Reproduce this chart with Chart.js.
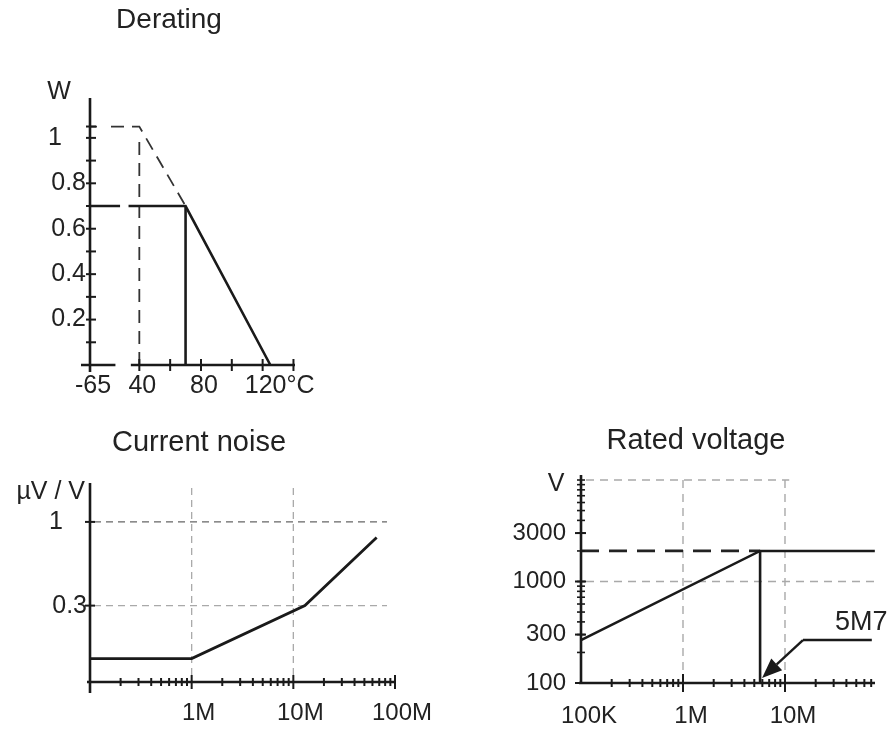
<!DOCTYPE html>
<html><head><meta charset="utf-8">
<script src="https://cdn.jsdelivr.net/npm/chart.js@4.4.0/dist/chart.umd.min.js"></script>
<style>
html,body{margin:0;padding:0;background:#fff;}
#wrap{position:relative;width:893px;height:731px;overflow:hidden;background:#fff}
canvas{position:absolute;left:0;top:0;}
</style></head><body>
<div id="wrap">
<canvas id="c1" width="893" height="731"></canvas>
<canvas id="c2" width="893" height="731"></canvas>
<canvas id="c3" width="893" height="731"></canvas>
</div>
<script>
// ================= DATA =================
// --- Derating (power W vs ambient temperature °C) ---
const deratingTitle = 'Derating';
const deratingSolidTemp = [-65, 70, 125];
const deratingSolidPower = [0.7, 0.7, 0];
const deratingDashTemp = [-65, 40, 70];
const deratingDashPower = [1.05, 1.05, 0.7];
const deratingKneeTemp = [70, 70];
const deratingKneePower = [0, 0.7];
const deratingRefTemp = [40, 40];
const deratingRefPower = [0, 1.0];
const deratingXTicks = [-65, 40, 80, 120];
const deratingXLabels = ['-65', '40', '80', '120'];
const deratingXMinor = [40, 60, 80, 100, 120, 140];
const deratingYTicks = [0.2, 0.4, 0.6, 0.8, 1];
const deratingYLabels = ['0.2', '0.4', '0.6', '0.8', '1'];
const deratingYMinor = [0.1, 0.2, 0.3, 0.4, 0.5, 0.6, 0.7, 0.8, 0.9, 1.0, 1.05];
const deratingXUnit = '°C';
const deratingYUnit = 'W';

// --- Current noise (µV/V vs resistance) ---
const noiseTitle = 'Current noise';
const noiseResistance = [1e5, 1e6, 1.3e7, 6.6e7];
const noiseLevel = [0.14, 0.14, 0.3, 0.8];
const noiseXTicks = [1e6, 1e7, 1e8];
const noiseXLabels = ['1M', '10M', '100M'];
const noiseXMinor = [2e5,3e5,4e5,5e5,6e5,7e5,8e5,9e5, 2e6,3e6,4e6,5e6,6e6,7e6,8e6,9e6, 2e7,3e7,4e7,5e7,6e7,7e7,8e7,9e7];
const noiseYTicks = [1, 0.3];
const noiseYLabels = ['1', '0.3'];
const noiseYUnit = 'µV / V';

// --- Rated voltage (V vs resistance) ---
const ratedTitle = 'Rated voltage';
const ratedResistance = [1e5, 5.7e6, 7.6e7];
const ratedVoltage = [265, 2000, 2000];
const ratedLimitResistance = [1e5, 5.7e6];
const ratedLimitVoltage = [2000, 2000];
const ratedCritResistance = [5.7e6, 5.7e6];
const ratedCritVoltage = [100, 2000];
const ratedXTicks = [1e5, 1e6, 1e7];
const ratedXLabels = ['100K', '1M', '10M'];
const ratedXMinor = [2e5,3e5,4e5,5e5,6e5,7e5,8e5,9e5, 2e6,3e6,4e6,5e6,6e6,7e6,8e6,9e6, 2e7,3e7,4e7,5e7,6e7,7e7];
const ratedYTicks = [100, 300, 1000, 3000];
const ratedYLabels = ['100', '300', '1000', '3000'];
const ratedYMinor = [200,300,400,500,600,700,800,900,1000,2000,3000,4000,5000,6000,7000,8000,9000,10000];
const ratedYUnit = 'V';
const ratedNoteText = '5M7';
const ratedNoteTip = {x: 5.96e6, y: 112};
const ratedNoteElbow = {x: 1.5e7, y: 265};
const ratedNoteEnd = {x: 7.1e7, y: 265};
const ratedNoteLabel = {x: 3.1e7, y: 390};

// ================= HELPERS =================
const FONT = '"Liberation Sans", Arial, Helvetica, sans-serif';
const TEXT = '#222';
const INK = '#1a1a1a';
const GRID = '#a9a9a9';

function seg(ctx, x1, y1, x2, y2, w, color, dash) {
  ctx.save();
  ctx.beginPath();
  ctx.lineWidth = w;
  ctx.strokeStyle = color;
  ctx.setLineDash(dash || []);
  ctx.moveTo(x1, y1);
  ctx.lineTo(x2, y2);
  ctx.stroke();
  ctx.restore();
}
function txt(ctx, s, x, y, size, align) {
  ctx.save();
  ctx.font = size + 'px ' + FONT;
  ctx.fillStyle = TEXT;
  ctx.textAlign = align || 'center';
  ctx.textBaseline = 'middle';
  ctx.fillText(s, x, y);
  ctx.restore();
}
function pts(xs, ys, map) {
  return xs.map((x, i) => ({x: map ? map(x) : x, y: ys[i]}));
}
function ds(data, width, color, dash) {
  return {data, showLine: true, borderColor: color, borderWidth: width, borderDash: dash || [],
          pointRadius: 0, clip: false, fill: false, tension: 0};
}
function makeChart(id, datasets, scales, padding, plugin) {
  return new Chart(document.getElementById(id), {
    type: 'scatter',
    data: {datasets},
    options: {
      responsive: false, animation: false, events: [],
      layout: {padding},
      scales,
      plugins: {legend: {display: false}, tooltip: {enabled: false}, title: {display: false}}
    },
    plugins: [plugin]
  });
}

// ================= DERATING =================
// broken temperature axis: -65..40 compressed into a short stretch
const tempPos = t => (t >= 40 ? t : 8 + (t + 65) * 32 / 105);

makeChart('c1', [
  ds(pts(deratingSolidTemp, deratingSolidPower, tempPos), 2.6, INK),
  ds(pts(deratingKneeTemp, deratingKneePower, tempPos), 2.6, INK),
  ds(pts(deratingDashTemp, deratingDashPower, tempPos), 1.8, '#333', [13, 8]),
  ds(pts(deratingRefTemp, deratingRefPower, tempPos), 1.8, '#333', [13, 8])
], {
  x: {type: 'linear', display: false, min: 8, max: 141},
  y: {type: 'linear', display: false, min: 0, max: 1.18}
}, {left: 90, right: 598, top: 97, bottom: 366}, {
  id: 'derDeco',
  afterDatasetsDraw(chart) {
    const {ctx, chartArea: a, scales: {x, y}} = chart;
    const X = t => x.getPixelForValue(tempPos(t));
    const Y = v => y.getPixelForValue(v);
    // break in the rated line and gap before first dash
    ctx.fillStyle = '#fff';
    ctx.fillRect(x.getPixelForValue(27.5), Y(0.7) - 3, x.getPixelForValue(33) - x.getPixelForValue(27.5), 6);
    ctx.fillRect(a.left + 7, Y(1.05) - 3, x.getPixelForValue(19) - a.left - 7, 6);
    // axes
    seg(ctx, a.left, a.top + 1, a.left, a.bottom + 7, 2.6, INK);
    seg(ctx, a.left - 9, a.bottom, x.getPixelForValue(24.5), a.bottom, 2.6, INK);
    seg(ctx, x.getPixelForValue(34.5), a.bottom, a.right, a.bottom, 2.6, INK);
    deratingYMinor.forEach(v => seg(ctx, a.left - 4, Y(v), a.left + 6, Y(v), 2, INK));
    deratingXMinor.forEach(t => seg(ctx, X(t), a.bottom - 6, X(t), a.bottom + 6, 2, INK));
    // labels
    deratingYLabels.forEach((s, i) => txt(ctx, s, a.left - 4 + (s === '1' ? -24 : 0), Y(deratingYTicks[i]), 25, 'right'));
    deratingXLabels.forEach((s, i) => txt(ctx, s, X(deratingXTicks[i]) + 3, a.bottom + 21, 25, 'center'));
    ctx.save(); ctx.font = '25px ' + FONT;
    const last = deratingXLabels[deratingXLabels.length - 1];
    const lx = X(deratingXTicks[deratingXTicks.length - 1]) + 3 + ctx.measureText(last).width / 2;
    ctx.restore();
    txt(ctx, deratingXUnit, lx, a.bottom + 21, 25, 'left');
    txt(ctx, deratingYUnit, a.left - 31, 92, 25, 'center');
    txt(ctx, deratingTitle, 169, 20, 28, 'center');
  }
});

// ================= CURRENT NOISE =================
makeChart('c2', [
  ds(pts(noiseResistance, noiseLevel), 2.8, INK)
], {
  x: {type: 'logarithmic', display: false, min: 1e5, max: 1e8},
  y: {type: 'logarithmic', display: false, min: 0.1, max: 1.75}
}, {left: 90, right: 498, top: 483, bottom: 49}, {
  id: 'noiseDeco',
  beforeDatasetsDraw(chart) {
    const {ctx, chartArea: a, scales: {x, y}} = chart;
    noiseYTicks.forEach((v, i) => seg(ctx, a.left + 4, y.getPixelForValue(v), a.right - 8, y.getPixelForValue(v), 1.3, i === 0 ? '#666' : GRID, [7, 5]));
    noiseXTicks.slice(0, 2).forEach(v => seg(ctx, x.getPixelForValue(v), a.top + 5, x.getPixelForValue(v), a.bottom, 1.3, GRID, [7, 5]));
  },
  afterDatasetsDraw(chart) {
    const {ctx, chartArea: a, scales: {x, y}} = chart;
    seg(ctx, a.left, a.top, a.left, a.bottom + 11, 2.6, INK);
    seg(ctx, a.left - 3, a.bottom, a.right, a.bottom, 2.6, INK);
    noiseXMinor.forEach(v => seg(ctx, x.getPixelForValue(v), a.bottom - 4, x.getPixelForValue(v), a.bottom + 4, 2, INK));
    noiseXTicks.forEach(v => seg(ctx, x.getPixelForValue(v), a.bottom - 7, x.getPixelForValue(v), a.bottom + 7, 2, INK));
    noiseYTicks.forEach(v => seg(ctx, a.left - 5, y.getPixelForValue(v), a.left + 5, y.getPixelForValue(v), 2, INK));
    noiseYLabels.forEach((s, i) => txt(ctx, s, a.left - 3 + (s === '1' ? -24 : 0), y.getPixelForValue(noiseYTicks[i]), 25, 'right'));
    noiseXLabels.forEach((s, i) => txt(ctx, s, x.getPixelForValue(noiseXTicks[i]) + 7, a.bottom + 31, 24, 'center'));
    txt(ctx, noiseYUnit, a.left - 5, 492, 25, 'right');
    txt(ctx, noiseTitle, 199, 443, 29, 'center');
  }
});

// ================= RATED VOLTAGE =================
makeChart('c3', [
  ds(pts(ratedResistance, ratedVoltage), 2.6, INK),
  ds(pts(ratedCritResistance, ratedCritVoltage), 2.6, INK),
  ds(pts(ratedLimitResistance, ratedLimitVoltage), 2.8, '#222', [18, 10])
], {
  x: {type: 'logarithmic', display: false, min: 1e5, max: 7.63e7},
  y: {type: 'logarithmic', display: false, min: 100, max: 10000}
}, {left: 581, right: 18, top: 480, bottom: 48}, {
  id: 'ratedDeco',
  beforeDatasetsDraw(chart) {
    const {ctx, chartArea: a, scales: {x, y}} = chart;
    seg(ctx, a.left + 5, y.getPixelForValue(10000), x.getPixelForValue(1.1e7), y.getPixelForValue(10000), 1.4, GRID, [8, 6]);
    seg(ctx, a.left + 5, y.getPixelForValue(1000), a.right, y.getPixelForValue(1000), 1.4, GRID, [8, 6]);
    [1e6, 1e7].forEach(v => seg(ctx, x.getPixelForValue(v), a.top, x.getPixelForValue(v), a.bottom, 1.4, GRID, [8, 6]));
  },
  afterDatasetsDraw(chart) {
    const {ctx, chartArea: a, scales: {x, y}} = chart;
    seg(ctx, a.left, a.top - 5, a.left, a.bottom, 2.6, INK);
    seg(ctx, a.left - 2, a.bottom, a.right, a.bottom, 2.6, INK);
    ratedYMinor.forEach(v => seg(ctx, a.left - 4, y.getPixelForValue(v), a.left + 4, y.getPixelForValue(v), 1.6, INK));
    ratedYTicks.forEach(v => seg(ctx, a.left - 6, y.getPixelForValue(v), a.left + 5, y.getPixelForValue(v), 2, INK));
    ratedXMinor.forEach(v => seg(ctx, x.getPixelForValue(v), a.bottom - 4, x.getPixelForValue(v), a.bottom + 4, 2, INK));
    ratedXTicks.slice(1).forEach(v => seg(ctx, x.getPixelForValue(v), a.bottom - 9, x.getPixelForValue(v), a.bottom + 9, 2, INK));
    // annotation arrow
    const tx = x.getPixelForValue(ratedNoteTip.x), ty = y.getPixelForValue(ratedNoteTip.y);
    const ex = x.getPixelForValue(ratedNoteElbow.x), ey = y.getPixelForValue(ratedNoteElbow.y);
    seg(ctx, x.getPixelForValue(ratedNoteEnd.x), y.getPixelForValue(ratedNoteEnd.y), ex, ey, 2.4, INK);
    const ang = Math.atan2(ty - ey, tx - ex);
    const hx = tx - 20 * Math.cos(ang), hy = ty - 20 * Math.sin(ang);
    seg(ctx, ex, ey, hx, hy, 2.4, INK);
    ctx.save();
    ctx.fillStyle = INK;
    ctx.beginPath();
    ctx.moveTo(tx, ty);
    ctx.lineTo(hx + 8 * Math.sin(ang), hy - 8 * Math.cos(ang));
    ctx.lineTo(hx - 8 * Math.sin(ang), hy + 8 * Math.cos(ang));
    ctx.closePath();
    ctx.fill();
    ctx.restore();
    txt(ctx, ratedNoteText, x.getPixelForValue(ratedNoteLabel.x), y.getPixelForValue(ratedNoteLabel.y), 27, 'left');
    // labels
    ratedYLabels.forEach((s, i) => txt(ctx, s, a.left - 15, y.getPixelForValue(ratedYTicks[i]), 24, 'right'));
    ratedXLabels.forEach((s, i) => txt(ctx, s, x.getPixelForValue(ratedXTicks[i]) + 8, a.bottom + 33, 24, 'center'));
    txt(ctx, ratedYUnit, a.left - 25, a.top + 4, 25, 'center');
    txt(ctx, ratedTitle, 696, 441, 29, 'center');
  }
});
</script>
</body></html>
